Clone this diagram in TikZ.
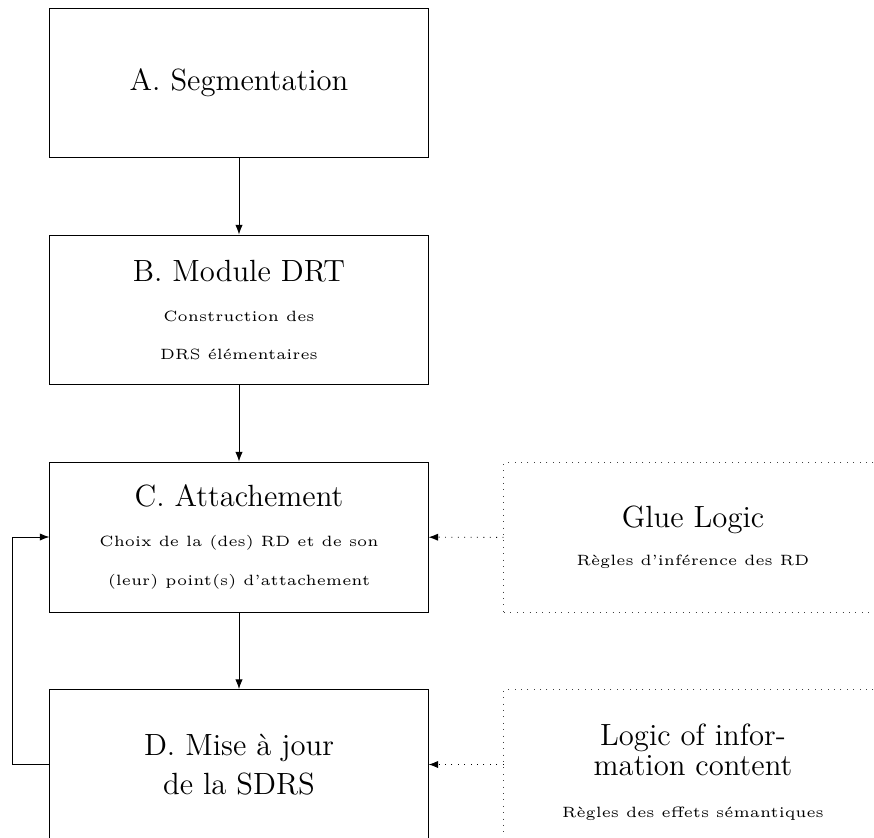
\documentclass[tikz,border=0pt]{standalone}
\usetikzlibrary{arrows.meta}
\newcommand{\subt}[1]{\scalebox{1.4}{\tiny #1}}
\begin{document}
\begin{tikzpicture}[x=0.4695pt,y=-0.4695pt,
  box/.style={draw, line width=0.45pt, minimum width=177.5pt, minimum height=70.4pt, align=center, font=\Large, inner sep=0pt},
  dbox/.style={box, dash pattern=on 0.45pt off 2.55pt, draw=black!75},
  arr/.style={-{Latex[length=4.5pt,width=3.4pt]}, line width=0.45pt},
  darr/.style={arr, dash pattern=on 0.45pt off 2.55pt}]
\useasboundingbox (0,0) rectangle (874,838);
\clip (0,0) rectangle (874,838);
\node[box] (A) at (239,83) {A. Segmentation};
\node[box] (B) at (239,310) {B. Module DRT\\[0.8pt] \subt{Construction des}\\ \subt{DRS élémentaires}};
\node[box] (C) at (239,537) {C. Attachement\\[0.8pt] \subt{Choix de la (des) RD et de son}\\ \subt{(leur) point(s) d'attachement}};
\node[box] (D) at (239,764.5) {D. Mise à jour\\ de la SDRS};
\node[dbox] (G) at (693,537.5) {Glue Logic\\ \subt{Règles d'inférence des RD}};
\node[dbox] (L) at (693,764.5) {\rule{0pt}{17.5pt}Logic of infor-\\[-4pt] mation content\\[1.5pt] \subt{Règles des effets sémantiques}};
\draw[arr] (A) -- (B);
\draw[arr] (B) -- (C);
\draw[arr] (C) -- (D);
\draw[darr] (G) -- (C);
\draw[darr] (L) -- (D);
\draw[arr] (D.west) -- ++(-37.5,0) |- (C.west);
\end{tikzpicture}
\end{document}
